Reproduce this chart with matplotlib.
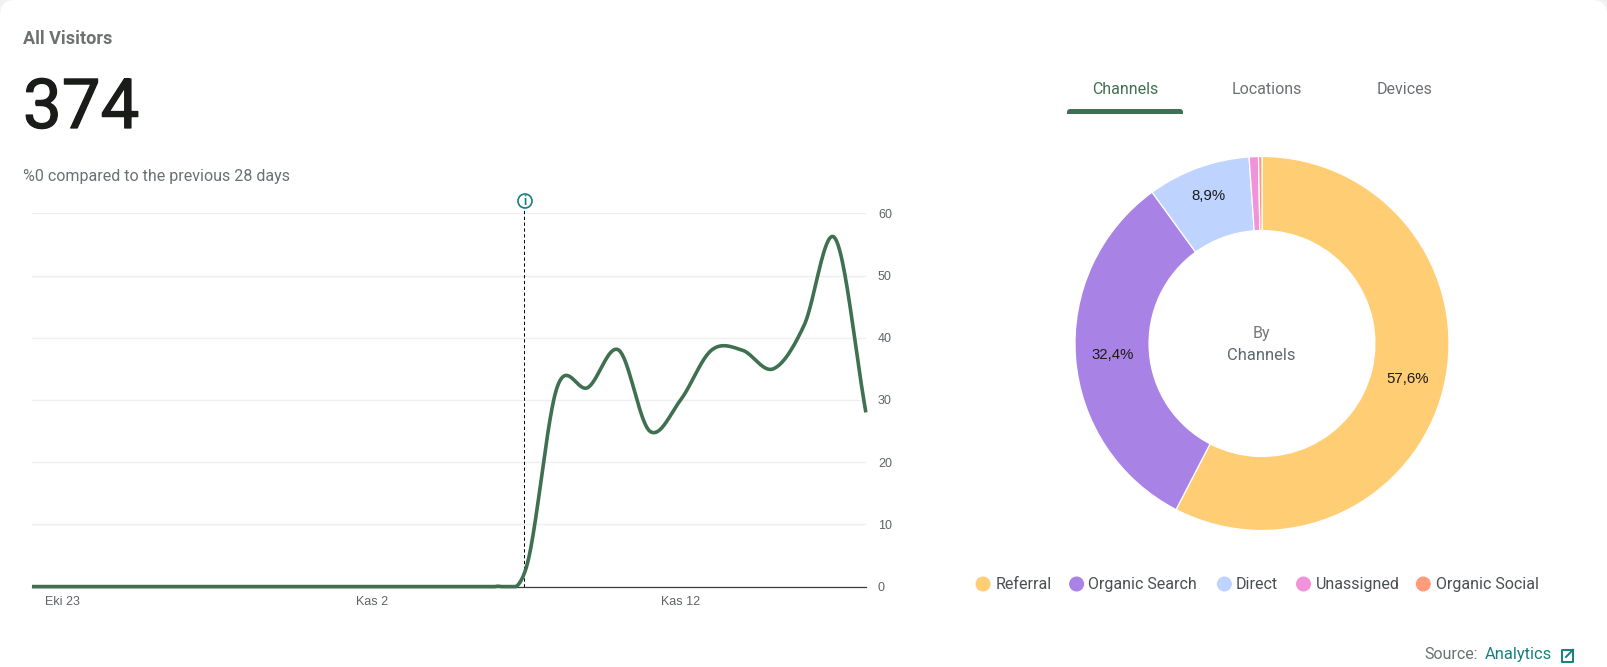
import numpy as np
import matplotlib
matplotlib.use("Agg")
import matplotlib.pyplot as plt
import matplotlib.patheffects as pe
from matplotlib.patches import Circle, FancyBboxPatch, Rectangle

W, H = 1608, 667
DPI = 100

# ---- data ----
visitors = [0, 0, 0, 0, 0, 0, 0, 0, 0, 0, 0, 0, 0, 0, 0, 0,
            3, 32, 32, 38, 25, 30, 38, 38, 35, 42, 56, 28]
x_tick_days = [1, 11, 21]
x_tick_labels = ["Eki 23", "Kas 2", "Kas 12"]
y_ticks = [0, 10, 20, 30, 40, 50, 60]
marker_day = 15.93

channels = ["Referral", "Organic Search", "Direct", "Unassigned", "Organic Social"]
shares = [57.6, 32.4, 8.9, 0.8, 0.3]
channel_colors = ["#FFCD73", "#A982E6", "#BFD3FF", "#F093DB", "#FF9A7B"]
tabs = ["Channels", "Locations", "Devices"]

GREEN = "#3F7050"
GREY = "#6B7073"
TEAL = "#17807F"
SANS = "Roboto"
ARIAL = "Liberation Sans"


def pt(px):
    return px * 72 / DPI


def axes_px(fig, left, top, right, bottom, **kw):
    return fig.add_axes([left / W, 1 - bottom / H, (right - left) / W, (bottom - top) / H], **kw)


def smooth(y, n=40):
    """Cardinal spline through the data, held at the axis floor."""
    y = np.asarray(y, float)
    m = np.gradient(y)
    t = np.linspace(0, 1, n, endpoint=False)[:, None]
    h00 = 2 * t**3 - 3 * t**2 + 1
    h10 = t**3 - 2 * t**2 + t
    h01 = -2 * t**3 + 3 * t**2
    h11 = t**3 - t**2
    i = np.arange(len(y) - 1)
    seg = h00 * y[i] + h10 * m[i] + h01 * y[i + 1] + h11 * m[i + 1]
    xs = (i + t).T.ravel()
    ys = seg.T.ravel()
    return np.r_[xs, len(y) - 1], np.maximum(np.r_[ys, y[-1]], 0)


fig = plt.figure(figsize=(W / DPI, H / DPI), dpi=DPI, facecolor="#F1F1F1")

# ---- pixel overlay: card and text ----
ov = fig.add_axes([0, 0, 1, 1], zorder=0)
ov.set_xlim(0, W)
ov.set_ylim(H, 0)
ov.axis("off")
ov.add_patch(FancyBboxPatch((15, 15), 1607 - 30, H + 40, boxstyle="round,pad=15,rounding_size=15",
                            fc="white", ec="none"))

ov.text(23, 39.5, "All Visitors", fontsize=pt(18), family=SANS, weight="bold", color="#6C7170", va="center")
big = ov.text(23, 109, "374", fontsize=pt(69), family=SANS, color="#191C19", va="center")
big.set_path_effects([pe.withStroke(linewidth=0.9, foreground="#191C19")])
ov.text(23, 176, "%0 compared to the previous 28 days", fontsize=pt(16), family=SANS, color=GREY, va="center")

tab_x = [1125, 1267, 1405]
for i, (name, x) in enumerate(zip(tabs, tab_x)):
    ov.text(x, 90, name, fontsize=pt(16), family=SANS, color=GREEN if i == 0 else GREY,
            ha="center", va="center")
ov.add_patch(FancyBboxPatch((1070, 112), 110, 3, boxstyle="round,pad=3,rounding_size=3", fc=GREEN, ec="none"))
ov.add_patch(Rectangle((1067, 112.5), 116, 6, fc="white", ec="none"))
ov.add_patch(Rectangle((1067, 112), 116, 1.8, fc=GREEN, ec="none"))

ov.add_patch(Circle((525, 201), 7, fc="white", ec=TEAL, lw=1.2))
ov.text(525, 201.3, "i", fontsize=pt(12), family=SANS, weight="bold", color=TEAL, ha="center", va="center")

legend_dots = [983, 1076.6, 1224.4, 1303.5, 1423.3]
legend_text = [996, 1088.5, 1236, 1316, 1435.7]
for name, col, cx, tx in zip(channels, channel_colors, legend_dots, legend_text):
    ov.add_patch(Circle((cx, 584), 7.5, fc=col, ec="none"))
    ov.text(tx, 584.8, name, fontsize=pt(16), family=SANS, color="#4A4F52", va="center")

ov.text(1424, 654.5, "Source:", fontsize=pt(16), family=SANS, color=GREY, va="center")
ov.text(1485, 654.5, "Analytics", fontsize=pt(16.5), family=SANS, color=TEAL, va="center")
ov.plot([1569, 1561.8, 1561.8, 1573.2, 1573.2], [649.5, 649.5, 661.5, 661.5, 654], color=TEAL, lw=1.4)
ov.plot([1566, 1573], [657, 649.7], color=TEAL, lw=1.4)
ov.plot([1568.5, 1573, 1573], [649.7, 649.7, 654], color=TEAL, lw=1.4)

ov.text(1261, 333.5, "By", fontsize=pt(16), family=SANS, color="#777777", ha="center", va="center")
ov.text(1261, 355, "Channels", fontsize=pt(16.5), family=SANS, color="#5F686C", ha="center", va="center")

# ---- line chart ----
ax = axes_px(fig, 32, 213.3, 866.5, 586.6, zorder=2)
ax.patch.set_alpha(0)
sx, sy = smooth(visitors)
ax.set_xlim(0, 27.02)
ax.set_ylim(0, 60)
ax.yaxis.tick_right()
ax.set_yticks(y_ticks)
ax.set_xticks(x_tick_days, x_tick_labels)
ax.grid(axis="y", color="#EEEEF3", lw=1.0)
ax.set_axisbelow(True)
for s in ("top", "left", "right"):
    ax.spines[s].set_visible(False)
ax.spines["bottom"].set_color("#3A3A3A")
ax.spines["bottom"].set_linewidth(0.9)
ax.tick_params(axis="y", length=0, pad=pt(11.5), labelsize=pt(12.5), labelcolor="#5F6368")
ax.tick_params(axis="x", length=0, pad=pt(9), labelsize=pt(12.5), labelcolor="#5F6368")
for lab in ax.get_xticklabels() + ax.get_yticklabels():
    lab.set_family(ARIAL)
ax.plot([marker_day, marker_day], [0, 60.7], color="black", lw=0.7, dashes=(3.4, 2.6), clip_on=False, zorder=2)
ax.plot(sx, sy, color=GREEN, lw=2.6, clip_on=False, solid_capstyle="butt", zorder=3)

# ---- donut ----
axp = axes_px(fig, 1075, 156.5, 1449, 530.5, zorder=2)
axp.patch.set_alpha(0)
wedges, _, autotexts = axp.pie(
    shares,
    colors=channel_colors,
    startangle=90,
    counterclock=False,
    radius=1,
    wedgeprops=dict(width=0.396, edgecolor="white", linewidth=0.9),
    pctdistance=0.802,
    autopct=lambda p: (f"{p:.1f}%".replace(".", ",") if p > 5 else ""),
)
for t in autotexts:
    t.set_fontsize(pt(15))
    t.set_family(ARIAL)
    t.set_color("#1A1A1A")
# the smallest labelled slice sits further out in the ring
px_, py_ = autotexts[2].get_position()
autotexts[2].set_position((px_ * 1.05, py_ * 1.05))
axp.set_xlim(-1, 1)
axp.set_ylim(-1, 1)

fig.savefig("out.png", dpi=DPI, facecolor=fig.get_facecolor())
